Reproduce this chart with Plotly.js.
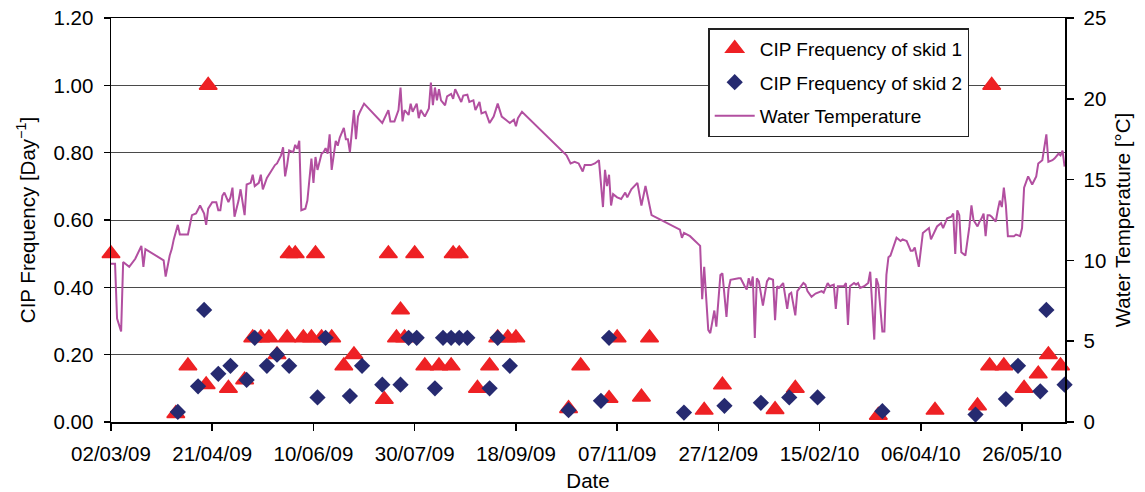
<!DOCTYPE html>
<html>
<head>
<meta charset="utf-8">
<script src="https://cdn.plot.ly/plotly-3.0.1.min.js"></script>
<style>
  html, body { margin: 0; padding: 0; background: #ffffff; }
  #chart { width: 1145px; height: 492px; }
</style>
</head>
<body>
<div id="chart"></div>
<script>
// ---- CIP frequency of skid 1 (Day^-1) ----
const skid1Dates = [
  '2009-03-02','2009-04-03','2009-04-09','2009-04-18','2009-04-19','2009-04-29','2009-05-07',
  '2009-05-11','2009-05-15','2009-05-19','2009-05-23','2009-05-28','2009-05-29','2009-06-01',
  '2009-06-05','2009-06-09','2009-06-11','2009-06-14','2009-06-19','2009-06-25','2009-06-30',
  '2009-07-15','2009-07-17','2009-07-21','2009-07-23','2009-07-25','2009-07-30','2009-08-04',
  '2009-08-11','2009-08-17','2009-08-18','2009-08-21','2009-08-30','2009-09-05','2009-09-09',
  '2009-09-14','2009-09-18','2009-10-14','2009-10-20','2009-11-03','2009-11-07','2009-11-19',
  '2009-11-23','2009-12-20','2009-12-29','2010-01-24','2010-02-03','2010-03-16','2010-04-13',
  '2010-05-04','2010-05-10','2010-05-11','2010-05-17','2010-05-27','2010-06-03','2010-06-08',
  '2010-06-14'
];
const skid1Freq = [
  0.5, 0.025, 0.167, 0.111, 1.0, 0.1, 0.125,
  0.25, 0.25, 0.25, 0.2, 0.25, 0.5, 0.5,
  0.25, 0.25, 0.5, 0.25, 0.25, 0.167, 0.2,
  0.067, 0.5, 0.25, 0.333, 0.25, 0.5, 0.167,
  0.167, 0.167, 0.5, 0.5, 0.1, 0.167, 0.25,
  0.25, 0.25, 0.04, 0.167, 0.07, 0.25, 0.074,
  0.25, 0.035, 0.11, 0.037, 0.1, 0.02, 0.035,
  0.048, 0.167, 1.0, 0.167, 0.1, 0.143, 0.2,
  0.167
];

// ---- CIP frequency of skid 2 (Day^-1) ----
const skid2Dates = [
  '2009-04-04','2009-04-14','2009-04-17','2009-04-24','2009-04-30','2009-05-08','2009-05-12',
  '2009-05-18','2009-05-23','2009-05-29','2009-06-12','2009-06-16','2009-06-28','2009-07-04',
  '2009-07-14','2009-07-23','2009-07-27','2009-07-31','2009-08-09','2009-08-13','2009-08-17',
  '2009-08-21','2009-08-25','2009-09-05','2009-09-09','2009-09-15','2009-10-14','2009-10-30',
  '2009-11-03','2009-12-10','2009-12-30','2010-01-17','2010-01-31','2010-02-14','2010-03-18',
  '2010-05-03','2010-05-18','2010-05-24','2010-06-04','2010-06-07','2010-06-16'
];
const skid2Freq = [
  0.03, 0.106, 0.333, 0.143, 0.167, 0.125, 0.25,
  0.167, 0.2, 0.167, 0.073, 0.25, 0.077, 0.167,
  0.111, 0.111, 0.25, 0.25, 0.1, 0.25, 0.25,
  0.25, 0.25, 0.1, 0.25, 0.167, 0.035, 0.063,
  0.25, 0.028, 0.048, 0.057, 0.073, 0.073, 0.032,
  0.022, 0.068, 0.167, 0.091, 0.333, 0.111
];

// ---- Water temperature (°C) ----
const tempDates = [
  '2009-03-02','2009-03-04','2009-03-05','2009-03-07','2009-03-08','2009-03-11','2009-03-14','2009-03-17','2009-03-18','2009-03-19',
  '2009-03-28','2009-03-29','2009-03-31','2009-04-01','2009-04-02','2009-04-04','2009-04-05','2009-04-09','2009-04-11','2009-04-13',
  '2009-04-15','2009-04-17','2009-04-18','2009-04-19','2009-04-21','2009-04-23','2009-04-24','2009-04-25','2009-04-26','2009-04-27',
  '2009-04-29','2009-04-30','2009-05-01','2009-05-02','2009-05-04','2009-05-05','2009-05-07','2009-05-08','2009-05-10','2009-05-11',
  '2009-05-12','2009-05-14','2009-05-15','2009-05-16','2009-05-18','2009-05-20','2009-05-22','2009-05-23','2009-05-25','2009-05-26',
  '2009-05-27','2009-05-28','2009-05-29','2009-05-31','2009-06-01','2009-06-02','2009-06-03','2009-06-04','2009-06-06','2009-06-07',
  '2009-06-09','2009-06-10','2009-06-11','2009-06-12','2009-06-14','2009-06-15','2009-06-16','2009-06-17','2009-06-18','2009-06-19',
  '2009-06-20','2009-06-21','2009-06-22','2009-06-23','2009-06-25','2009-06-26','2009-06-27','2009-06-28','2009-06-29','2009-06-30',
  '2009-07-01','2009-07-02','2009-07-03','2009-07-05','2009-07-14','2009-07-17','2009-07-18','2009-07-20','2009-07-22','2009-07-23',
  '2009-07-24','2009-07-25','2009-07-27','2009-07-28','2009-07-29','2009-07-31','2009-08-01','2009-08-02','2009-08-04','2009-08-06',
  '2009-08-07','2009-08-08','2009-08-09','2009-08-10','2009-08-11','2009-08-12','2009-08-14','2009-08-15','2009-08-17','2009-08-18',
  '2009-08-19','2009-08-22','2009-08-23','2009-08-25','2009-08-26','2009-08-28','2009-08-29','2009-08-31','2009-09-01','2009-09-03',
  '2009-09-05','2009-09-07','2009-09-09','2009-09-11','2009-09-13','2009-09-15','2009-09-17','2009-09-18','2009-09-19','2009-09-21',
  '2009-10-13','2009-10-15','2009-10-17','2009-10-19','2009-10-21','2009-10-22','2009-10-25','2009-10-27','2009-10-29','2009-10-30',
  '2009-10-31','2009-11-01','2009-11-02','2009-11-03','2009-11-04','2009-11-05','2009-11-07','2009-11-09','2009-11-11','2009-11-12',
  '2009-11-14','2009-11-17','2009-11-18','2009-11-19','2009-11-21','2009-11-24','2009-12-08','2009-12-09','2009-12-10','2009-12-13',
  '2009-12-18','2009-12-19','2009-12-20','2009-12-21','2009-12-22','2009-12-23','2009-12-25','2009-12-26','2009-12-28','2009-12-29',
  '2009-12-31','2010-01-01','2010-01-02','2010-01-06','2010-01-07','2010-01-09','2010-01-10','2010-01-11','2010-01-12','2010-01-13',
  '2010-01-14','2010-01-15','2010-01-16','2010-01-18','2010-01-20','2010-01-21','2010-01-23','2010-01-24','2010-01-25','2010-01-26',
  '2010-01-28','2010-01-30','2010-01-31','2010-02-01','2010-02-03','2010-02-04','2010-02-07','2010-02-08','2010-02-09','2010-02-11',
  '2010-02-13','2010-02-16','2010-02-17','2010-02-19','2010-02-20','2010-02-22','2010-02-23','2010-02-24','2010-02-27','2010-02-28',
  '2010-03-01','2010-03-02','2010-03-04','2010-03-05','2010-03-06','2010-03-07','2010-03-09','2010-03-11','2010-03-12','2010-03-14',
  '2010-03-15','2010-03-16','2010-03-18','2010-03-19','2010-03-20','2010-03-21','2010-03-22','2010-03-25','2010-03-27','2010-03-28',
  '2010-03-30','2010-04-01','2010-04-02','2010-04-03','2010-04-05','2010-04-07','2010-04-09','2010-04-10','2010-04-11','2010-04-13',
  '2010-04-14','2010-04-16','2010-04-17','2010-04-19','2010-04-21','2010-04-22','2010-04-23','2010-04-24','2010-04-25','2010-04-26',
  '2010-04-28','2010-04-30','2010-05-01','2010-05-02','2010-05-04','2010-05-05','2010-05-06','2010-05-07','2010-05-08','2010-05-09',
  '2010-05-10','2010-05-11','2010-05-13','2010-05-14','2010-05-15','2010-05-16','2010-05-17','2010-05-18','2010-05-19','2010-05-22',
  '2010-05-23','2010-05-25','2010-05-26','2010-05-27','2010-05-29','2010-05-31','2010-06-02','2010-06-03','2010-06-05','2010-06-07',
  '2010-06-08','2010-06-10','2010-06-11','2010-06-13','2010-06-14','2010-06-15','2010-06-16'
];
const tempValues = [
  9.8, 9.8, 6.4, 5.6, 9.9, 9.6, 10.1, 10.9, 9.6, 10.7,
  10.0, 9.0, 10.3, 10.7, 11.3, 12.2, 11.6, 11.6, 12.8, 12.9,
  13.4, 12.9, 12.2, 13.2, 13.6, 13.6, 13.1, 13.1, 14.0, 14.2,
  13.6, 13.9, 14.5, 12.7, 13.7, 14.4, 12.8, 14.7, 14.8, 15.3,
  14.6, 14.8, 15.3, 14.4, 15.1, 15.5, 15.9, 16.0, 16.5, 17.0,
  15.2, 15.9, 16.8, 16.7, 17.15, 16.9, 17.4, 13.1, 13.2, 13.7,
  16.3, 14.8, 16.4, 15.6, 16.6, 16.7, 16.95, 16.6, 17.8, 15.6,
  16.7, 17.4, 17.1, 17.6, 18.2, 17.5, 17.5, 16.7, 18.0, 19.3,
  17.5, 18.9, 19.2, 19.7, 18.5, 19.3, 18.6, 18.6, 19.3, 20.7,
  18.6, 19.3, 19.0, 19.7, 19.2, 19.7, 18.8, 19.3, 18.9, 19.4,
  21.0, 19.6, 20.7, 19.9, 20.6, 19.9, 19.6, 20.15, 20.3, 20.0,
  20.6, 19.8, 20.2, 20.25, 19.8, 19.9, 19.3, 19.8, 19.1, 19.2,
  18.5, 18.9, 19.7, 18.9, 18.7, 18.5, 18.7, 18.3, 18.8, 19.2,
  16.5, 16.0, 16.1, 16.0, 15.5, 15.9, 15.9, 16.0, 16.2, 14.8,
  13.3, 15.6, 14.6, 15.3, 13.4, 14.1, 13.9, 13.8, 14.2, 13.9,
  14.4, 14.8, 14.2, 13.4, 14.6, 12.8, 11.9, 11.4, 11.7, 11.5,
  10.9, 7.6, 9.6, 7.3, 5.7, 5.5, 6.9, 5.9, 9.1, 9.2,
  6.5, 8.2, 8.8, 8.9, 8.9, 8.4, 8.2, 8.9, 8.4, 9.0,
  5.2, 8.9, 8.7, 7.2, 8.7, 8.9, 8.8, 6.3, 8.4, 8.3,
  8.6, 7.0, 7.9, 8.0, 6.6, 8.1, 8.6, 8.5, 8.1, 7.75,
  7.95, 8.1, 8.0, 8.6, 8.4, 8.5, 7.0, 8.4, 8.4, 8.6,
  6.0, 8.4, 8.6, 8.5, 8.6, 8.3, 8.4, 8.6, 9.3, 5.1,
  8.9, 8.5, 5.6, 5.6, 9.1, 10.2, 10.3, 11.4, 11.2, 11.3,
  11.2, 10.6, 10.6, 10.8, 9.6, 11.7, 11.9, 12.0, 11.3, 11.9,
  12.1, 12.3, 12.0, 12.6, 12.7, 12.9, 10.4, 13.1, 12.8, 10.5,
  10.3, 12.1, 13.4, 12.5, 12.1, 12.4, 12.6, 12.9, 11.5, 12.8,
  12.8, 12.7, 12.4, 13.1, 13.7, 13.3, 14.5, 13.4, 11.5, 11.5,
  11.6, 11.5, 12.0, 14.5, 15.2, 14.7, 15.2, 16.0, 16.2, 17.8,
  16.1, 16.2, 16.3, 16.6, 16.5, 16.8, 15.8
];

// ---- Axis ticks ----
const xTickStart = '2009-03-02';
const xTickStepDays = 50;
const xRange = ['2009-03-02', '2010-06-16 05:00'];
const freqRange = [0, 1.2];
const freqStep = 0.2;
const tempRange = [0, 25];
const tempStep = 5;

const FONT = 'Liberation Sans, Arial, Helvetica, sans-serif';
const FS = 20.5;
const LEG_FS = 19;

const traces = [
  {
    x: tempDates, y: tempValues, yaxis: 'y2',
    type: 'scatter', mode: 'lines',
    name: 'Water Temperature',
    line: { color: '#B24FA0', width: 2 },
    legendgroup: 'c', legendrank: 3
  },
  {
    x: skid1Dates, y: skid1Freq,
    type: 'scatter', mode: 'markers',
    name: 'CIP Frequency of skid 1',
    marker: { symbol: 'triangle-up', size: 15.5, color: '#EE2124', line: { color: '#EE2124', width: 1.5 } },
    cliponaxis: false,
    legendgroup: 'a', legendrank: 1
  },
  {
    x: skid2Dates, y: skid2Freq,
    type: 'scatter', mode: 'markers',
    name: 'CIP Frequency of skid 2',
    marker: { symbol: 'diamond', size: 12.5, color: '#262A70' },
    cliponaxis: false,
    legendgroup: 'b', legendrank: 2
  }
];

const layout = {
  width: 1145, height: 492,
  margin: { l: 111, r: 80, t: 18, b: 70 },
  paper_bgcolor: '#ffffff', plot_bgcolor: '#ffffff',
  font: { family: FONT, size: FS, color: '#000000' },
  showlegend: true,
  legend: {
    x: 0.626, y: 0.975, xanchor: 'left', yanchor: 'top',
    bgcolor: '#ffffff', bordercolor: '#222222', borderwidth: 1.5,
    font: { family: FONT, size: LEG_FS, color: '#000000' },
    traceorder: 'grouped', tracegroupgap: 6,
    itemwidth: 40
  },
  xaxis: {
    type: 'date',
    range: xRange,
    tick0: xTickStart,
    dtick: xTickStepDays * 86400000,
    tickformat: '%d/%m/%y',
    ticks: 'outside', ticklen: 7, tickwidth: 1.5, tickcolor: '#000',
    ticklabelstandoff: 6,
    showgrid: false, zeroline: false,
    showline: true, linecolor: '#000', linewidth: 1.5, mirror: true,
    title: { text: 'Date', standoff: 12, font: { family: FONT, size: FS } },
    automargin: false
  },
  yaxis: {
    range: freqRange, dtick: freqStep, tick0: 0,
    tickformat: '.2f',
    ticks: 'outside', ticklen: 6, tickwidth: 1.5, tickcolor: '#000',
    ticklabelstandoff: 6,
    showgrid: true, gridcolor: '#4a4a4a', gridwidth: 1,
    zeroline: false,
    showline: true, linecolor: '#000', linewidth: 1.5,
    title: { text: 'CIP Frequency [Day<sup>−1</sup>]', standoff: 12, font: { family: FONT, size: FS } },
    automargin: false
  },
  yaxis2: {
    overlaying: 'y', side: 'right',
    range: tempRange, dtick: tempStep, tick0: 0,
    ticks: 'outside', ticklen: 7, tickwidth: 1.5, tickcolor: '#000',
    ticklabelstandoff: 6,
    showgrid: false, zeroline: false,
    showline: true, linecolor: '#000', linewidth: 1.5,
    title: { text: 'Water Temperature [°C]', standoff: 10, font: { family: FONT, size: FS } },
    automargin: false
  }
};

Plotly.newPlot('chart', traces, layout, { staticPlot: true, displayModeBar: false });
</script>
</body>
</html>
